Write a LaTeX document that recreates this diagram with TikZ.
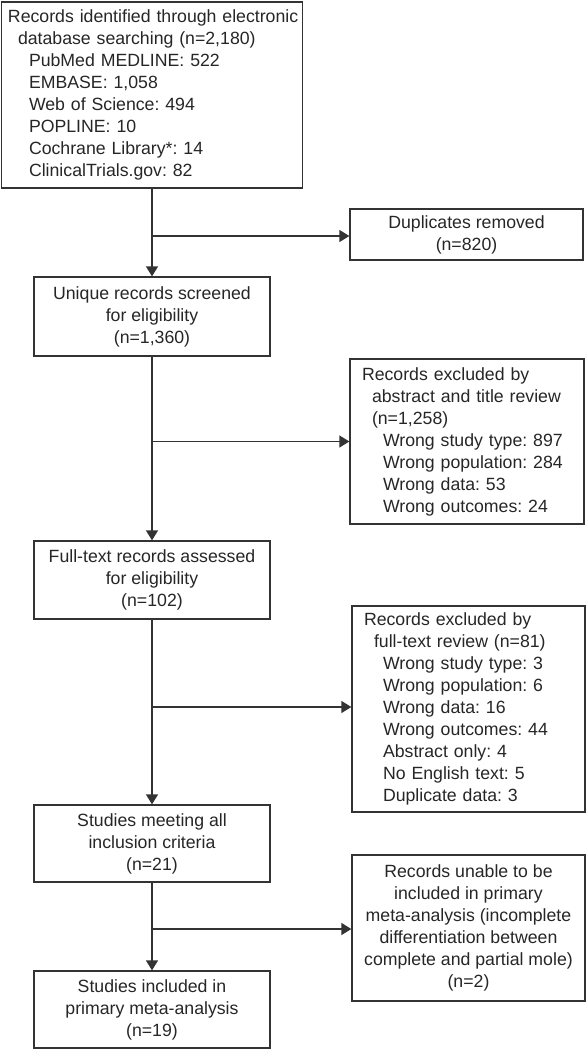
\documentclass[tikz,border=0pt]{standalone}
\usepackage{fontspec}
\setmainfont{Liberation Sans}
\usetikzlibrary{arrows.meta,positioning,calc}
\frenchspacing
\definecolor{ink}{HTML}{262626}
\definecolor{linec}{HTML}{333333}
\tikzset{
  box/.style={draw=linec, line width=1.3pt, rectangle, inner ysep=2pt, text=ink,
    font=\fontsize{17.7}{22}\selectfont},
  cbox/.style={box, align=center, inner xsep=4pt},
  lbox/.style={box, align=left},
  flow/.style={draw=linec, line width=1.3pt, -{Triangle[length=10pt,width=12pt]}},
}
\begin{document}
\begin{tikzpicture}[x=1pt,y=-1pt]
\useasboundingbox (0,0) rectangle (586,1050);

\node[lbox, inner xsep=6.5pt, text width=288pt, minimum width=301pt, minimum height=186pt] (b1) at (152,95)
{\mbox{Records identified through electronic}\\
\hspace*{10pt}\mbox{database searching (n=2,180)}\\
\hspace*{21pt}PubMed MEDLINE: 522\\
\hspace*{21pt}EMBASE: 1,058\\
\hspace*{21pt}Web of Science: 494\\
\hspace*{21pt}POPLINE: 10\\
\hspace*{21pt}Cochrane Library*: 14\\
\hspace*{21pt}ClinicalTrials.gov: 82};

\node[cbox, minimum width=233pt, minimum height=51pt] (dup) at (466.5,234.5)
{Duplicates removed\\(n=820)};

\node[cbox, minimum width=236pt, minimum height=79pt] (b2) at (152,316.5)
{Unique records screened\\for eligibility\\(n=1,360)};

\node[lbox, inner xsep=12pt, text width=210pt, minimum width=234pt, minimum height=165pt] (ex1) at (467,441.5)
{Records excluded by\\
\hspace*{10pt}abstract and title review\\
\hspace*{10pt}(n=1,258)\\
\hspace*{21pt}Wrong study type: 897\\
\hspace*{21pt}Wrong population: 284\\
\hspace*{21pt}Wrong data: 53\\
\hspace*{21pt}Wrong outcomes: 24};

\node[cbox, minimum width=236pt, minimum height=78pt] (b4) at (152,580)
{Full-text records assessed\\for eligibility\\(n=102)};

\node[lbox, inner xsep=12pt, text width=209pt, minimum width=233pt, minimum height=206pt] (ex2) at (468.5,709)
{Records excluded by\\
\hspace*{10pt}full-text review (n=81)\\
\hspace*{19pt}Wrong study type: 3\\
\hspace*{19pt}Wrong population: 6\\
\hspace*{19pt}Wrong data: 16\\
\hspace*{19pt}Wrong outcomes: 44\\
\hspace*{19pt}Abstract only: 4\\
\hspace*{19pt}No English text: 5\\
\hspace*{19pt}Duplicate data: 3};

\node[cbox, minimum width=236pt, minimum height=77pt] (b5) at (152,843.5)
{Studies meeting all\\inclusion criteria\\(n=21)};

\node[cbox, minimum width=233pt, minimum height=146pt] (ex3) at (468.5,928)
{Records unable to be\\included in primary\\meta-analysis (incomplete\\differentiation between\\complete and partial mole)\\(n=2)};

\node[cbox, minimum width=236pt, minimum height=77pt] (b6) at (152,1009.5)
{Studies included in\\primary meta-analysis\\(n=19)};

% main flow
\draw[flow] (b1.south -| b2.north) -- (b2.north);
\draw[flow] (b2.south) -- (b4.north);
\draw[flow] (b4.south) -- (b5.north);
\draw[flow] (b5.south) -- (b6.north);

% side branches
\coordinate (j1) at (b2.north |- 0,236);
\coordinate (j2) at (b2.north |- ex1.west);
\coordinate (j3) at (b2.north |- 0,707);
\coordinate (j4) at (b2.north |- 0,929);
\draw[flow] (j1) -- (dup.west |- j1);
\draw[flow] (j2) -- (ex1.west);
\draw[flow] (j3) -- (ex2.west |- j3);
\draw[flow] (j4) -- (ex3.west |- j4);
\end{tikzpicture}
\end{document}
